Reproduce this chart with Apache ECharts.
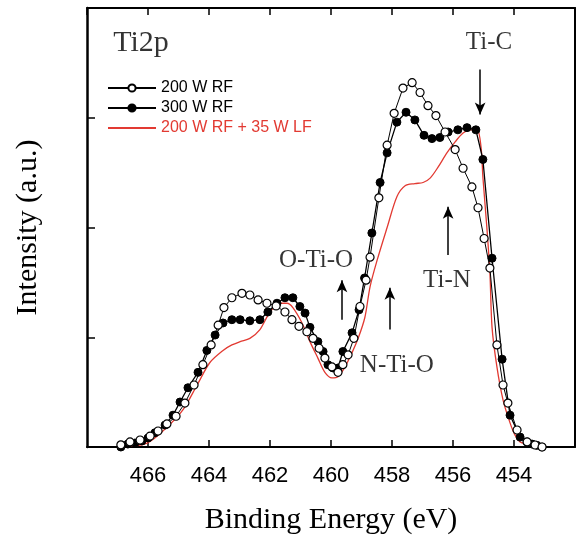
<!DOCTYPE html>
<html>
<head>
<meta charset="utf-8">
<script src="https://cdn.jsdelivr.net/npm/echarts@6/dist/echarts.min.js"></script>
<style>html,body{margin:0;padding:0;background:#fff;}#c{width:576px;height:539px;}</style>
</head>
<body>
<div id="c"></div>
<script>
// Binding energy (eV) and intensity (a.u.)
const rf200_E = [466.89,466.59,466.26,465.93,465.67,465.38,465.08,464.79,464.49,464.20,463.93,463.70,463.51,463.25,462.92,462.66,462.39,462.10,461.80,461.51,461.28,461.05,460.79,460.59,460.39,460.20,459.97,459.77,459.61,459.44,459.25,459.05,458.85,458.72,458.43,458.16,457.93,457.64,457.34,457.08,456.82,456.56,456.26,455.93,455.67,455.38,455.18,454.98,454.79,454.56,454.36,454.20,453.90,453.57,453.31,453.08];
const rf200_I = [0.02,0.046,0.064,0.10,0.146,0.21,0.28,0.40,0.565,0.75,0.93,1.11,1.27,1.36,1.40,1.385,1.34,1.31,1.285,1.23,1.16,1.10,1.05,0.99,0.90,0.81,0.73,0.68,0.75,0.84,0.99,1.28,1.52,1.73,2.27,2.75,3.04,3.27,3.32,3.23,3.11,3.02,2.87,2.71,2.54,2.37,2.18,1.90,1.63,0.93,0.565,0.40,0.155,0.046,0.018,0.0];

const rf300_E = [466.89,466.66,466.43,466.20,466.00,465.77,465.44,465.18,464.95,464.69,464.36,464.07,463.80,463.54,463.25,462.98,462.66,462.33,462.07,461.77,461.51,461.25,461.02,460.85,460.69,460.43,460.26,460.10,459.93,459.77,459.61,459.31,459.08,458.90,458.66,458.39,458.16,457.84,457.54,457.25,456.95,456.69,456.43,456.16,455.84,455.54,455.25,455.02,454.72,454.39,454.13,453.80,453.57,453.41,453.25,453.08];
const rf300_I = [0.0,0.027,0.036,0.055,0.082,0.13,0.20,0.29,0.41,0.54,0.68,0.88,1.02,1.13,1.16,1.16,1.15,1.16,1.23,1.31,1.36,1.36,1.28,1.22,1.09,0.96,0.87,0.75,0.72,0.72,0.87,1.04,1.25,1.54,1.95,2.41,2.68,2.96,3.05,2.98,2.84,2.81,2.82,2.87,2.89,2.91,2.89,2.62,1.72,0.80,0.29,0.09,0.045,0.027,0.015,0.0];

const lf_E = [466.89,466.03,465.38,464.85,464.39,463.97,463.54,463.25,462.98,462.66,462.33,462.00,461.67,461.44,461.25,460.95,460.69,460.43,460.20,459.97,459.77,459.54,459.31,459.11,458.89,458.72,458.49,458.16,457.84,457.57,457.25,456.98,456.75,456.49,456.20,455.93,455.67,455.44,455.21,455.08,455.02,454.89,454.79,454.72,454.56,454.36,454.13,453.97,453.80,453.57,453.15];
const lf_I = [0.0,0.036,0.18,0.34,0.565,0.77,0.88,0.93,0.96,0.99,1.07,1.23,1.31,1.31,1.27,1.13,0.96,0.81,0.68,0.63,0.64,0.73,0.86,0.99,1.18,1.46,1.70,2.00,2.28,2.38,2.40,2.41,2.45,2.55,2.68,2.78,2.86,2.89,2.89,2.73,2.46,2.00,1.59,1.09,0.73,0.43,0.22,0.11,0.046,0.027,0.0];

const seriesNames = ['200 W RF','300 W RF','200 W RF + 35 W LF'];
const xTicks = {min:452, max:468, step:2};
const yTicks = {min:0, max:4, step:1};

// Annotation labels and arrows (energy, intensity)
const labels = [
  {name:'Ti2p', E:466.23, I:3.68},
  {name:'Ti-C', E:454.82, I:3.69},
  {name:'O-Ti-O', E:460.49, I:1.70},
  {name:'N-Ti-O', E:457.84, I:0.74},
  {name:'Ti-N', E:456.20, I:1.52}
];
const arrows = [
  {from:[455.11,3.44], to:[455.11,3.03]},
  {from:[459.64,1.16], to:[459.64,1.52]},
  {from:[458.07,1.07], to:[458.07,1.45]},
  {from:[456.16,1.75], to:[456.16,2.19]}
];

const zip = (a,b)=>a.map((v,i)=>[v,b[i]]);
const RED = '#e23a32';
const serif = '"Liberation Serif","Times New Roman",serif';
const sans = '"Liberation Sans",Arial,sans-serif';

const chart = echarts.init(document.getElementById('c'), null, {renderer:'canvas'});
const axisBase = {
  type:'value', min:xTicks.min, max:xTicks.max, interval:xTicks.step, inverse:true,
  splitLine:{show:false},
  axisLine:{show:true, onZero:false, lineStyle:{color:'#000', width:2}},
  axisTick:{show:true, inside:true, length:7, lineStyle:{color:'#000', width:1.5}}
};
chart.setOption({
  animation:false,
  backgroundColor:'#fff',
  grid:{left:87, right:1, top:8, bottom:92, containLabel:false, outerBoundsMode:'none'},
  legend:{
    orient:'vertical', left:107, top:80, padding:0, itemWidth:48, itemHeight:9, itemGap:4,
    textStyle:{fontFamily:sans, fontSize:16, color:'#000'},
    data:[
      {name:seriesNames[0]},
      {name:seriesNames[1]},
      {name:seriesNames[2], textStyle:{color:RED}, itemStyle:{opacity:0}}
    ]
  },
  xAxis:[
    Object.assign({}, axisBase, {
      position:'bottom',
      axisLabel:{show:true, showMinLabel:false, showMaxLabel:false, fontFamily:sans, fontSize:22, color:'#000', margin:18},
      name:'Binding Energy (eV)', nameLocation:'middle', nameGap:58,
      nameTextStyle:{fontFamily:serif, fontSize:30, color:'#000'}
    }),
    Object.assign({}, axisBase, {position:'top', axisLabel:{show:false}})
  ],
  yAxis:[
    {type:'value', min:yTicks.min, max:yTicks.max, interval:yTicks.step, position:'left',
     splitLine:{show:false}, axisLabel:{show:false},
     axisLine:{show:true, onZero:false, lineStyle:{color:'#000', width:2.5}},
     axisTick:{show:true, inside:true, length:8, lineStyle:{color:'#000', width:1.5}},
     name:'Intensity (a.u.)', nameLocation:'middle', nameGap:44, nameRotate:90,
     nameTextStyle:{fontFamily:serif, fontSize:30, color:'#000'}},
    {type:'value', min:yTicks.min, max:yTicks.max, interval:yTicks.step, position:'right',
     splitLine:{show:false}, axisLabel:{show:false}, axisTick:{show:false},
     axisLine:{show:true, onZero:false, lineStyle:{color:'#000', width:2}}}
  ],
  series:[
    {name:seriesNames[2], type:'line', data:zip(lf_E, lf_I), showSymbol:false, symbol:'none',
     smooth:0.3, lineStyle:{color:RED, width:1.3}, itemStyle:{color:RED}, z:2},
    {name:seriesNames[1], type:'line', data:zip(rf300_E, rf300_I), symbol:'circle', symbolSize:8,
     lineStyle:{color:'#000', width:1.3}, itemStyle:{color:'#000', borderColor:'#000', borderWidth:1}, z:3},
    {name:seriesNames[0], type:'line', data:zip(rf200_E, rf200_I), symbol:'circle', symbolSize:8,
     lineStyle:{color:'#000', width:1}, itemStyle:{color:'#fff', borderColor:'#000', borderWidth:1.2}, z:4},
    {name:'annotations', type:'scatter', symbolSize:0, silent:true, z:5,
     itemStyle:{color:'#000'},
     data:labels.map(l=>({name:l.name, value:[l.E, l.I],
       label:{show:true, position:'inside', formatter:'{b}', fontFamily:serif,
              fontSize: l.name==='Ti2p'?30:25, color:'#000', textBorderWidth:0, textShadowBlur:0}})),
     markLine:{silent:true, symbol:['none','arrow'], symbolSize:[8,12], label:{show:false},
       lineStyle:{color:'#000', width:1.5, type:'solid'},
       data:arrows.map(a=>[{coord:a.from},{coord:a.to}])}
    }
  ]
});
</script>
</body>
</html>
